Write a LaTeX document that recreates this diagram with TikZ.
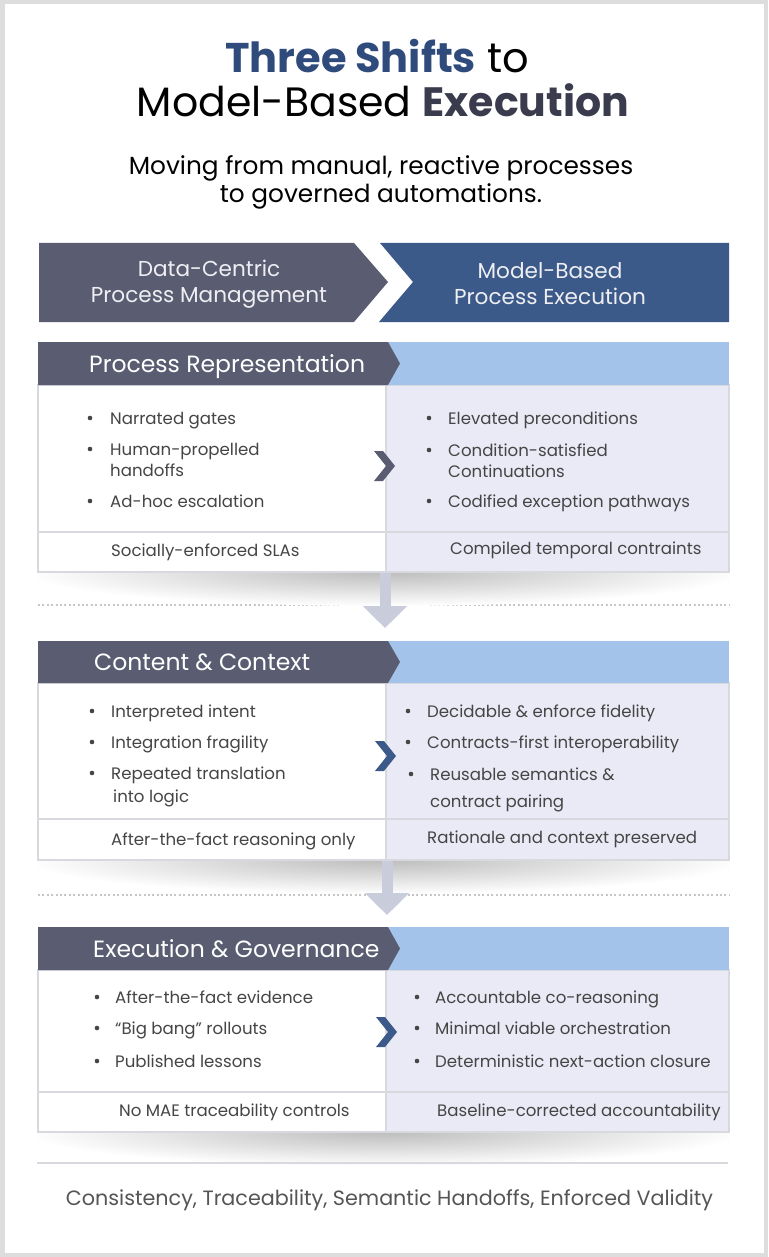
\documentclass[tikz,border=0pt]{standalone}
\usepackage{fontspec}
\setmainfont{Poppins}
\usetikzlibrary{arrows.meta}
\definecolor{framec}{HTML}{DDDDDD}
\definecolor{slate}{HTML}{5A5D71}
\definecolor{navy}{HTML}{3C5A89}
\definecolor{lblue}{HTML}{A4C3EA}
\definecolor{lav}{HTML}{E9EAF5}
\definecolor{bordc}{HTML}{D8D9DF}
\definecolor{txt}{HTML}{454545}
\definecolor{arrowc}{HTML}{C8CCDB}
\definecolor{titleblue}{HTML}{2F4B7C}
\definecolor{titledark}{HTML}{3A3B4D}
\definecolor{headtxt}{HTML}{EEEEF3}
\definecolor{dotc}{HTML}{C6C6C6}
\definecolor{foottxt}{HTML}{555555}
\newcommand{\secframe}[4]{%
  \begin{scope}
    \clip (38,#4) rectangle (729,{#4+40});
    \shade[inner color=black!26,outer color=white] (384,#4) ellipse [x radius=360, y radius=34];
  \end{scope}
  \fill[lav] (386,#2) rectangle (729,#4);
  \fill[white] (38,#2) rectangle (386,#4);
  \draw[bordc,line width=1.2pt] (38,#2) rectangle (729,#4);
  \draw[bordc,line width=1.2pt] (386,#2) -- (386,#4);
  \draw[bordc,line width=1.2pt] (38,#3) -- (729,#3);
  \fill[lblue] (386,#1) rectangle (729,#2);
  \fill[slate] (38,#1) -- (388,#1) -- (400,{(#1+#2)/2}) -- (388,#2) -- (38,#2) -- cycle;
}
\newcommand{\chev}[3]{%
  \fill[#3] (#1,{#2-15}) -- ({#1+9},{#2-15}) -- ({#1+21},#2) -- ({#1+9},{#2+15}) -- (#1,{#2+15}) -- ({#1+12},#2) -- cycle;
}
\begin{document}
\begin{tikzpicture}[x=1pt,y=-1pt,
  bodytxt/.style={anchor=base west,inner sep=0pt,text=txt,font=\fontsize{16.6}{19}\selectfont},
  bul/.style={circle,fill=txt,inner sep=0pt,minimum size=4.6pt},
  sectitle/.style={anchor=base west,inner sep=0pt,text=white,font=\fontsize{23.5}{28}\selectfont},
  headtext/.style={align=center,inner sep=0pt,text=headtxt,font=\fontsize{21.6}{25.5}\selectfont,anchor=base},
  darrow/.style={draw=arrowc,line width=11pt,-{Triangle[width=43pt,length=22pt]}},
  dotline/.style={draw=dotc,line width=2pt,dash pattern=on 2pt off 2.4pt}
]
\useasboundingbox (0,0) rectangle (768,1257);
\fill[framec] (0,0) rectangle (768,1257);
\fill[white] (5,4) rectangle (764,1253);

% title
\node[anchor=base,inner sep=0pt,font=\fontsize{41.5}{44}\selectfont] (t1) at (377,73) {\textcolor{titleblue}{\bfseries Three Shifts} to};
\node[anchor=base,inner sep=0pt,font=\fontsize{41}{44}\selectfont] (t2) at (383,117) {Model-Based \textcolor{titledark}{\bfseries Execution}};
\node[anchor=base,inner sep=0pt,font=\fontsize{24.8}{28}\selectfont] (s1) at (381,175) {Moving from manual, reactive processes};
\node[anchor=base,inner sep=0pt,font=\fontsize{24.8}{28}\selectfont] (s2) at (381,203) {to governed automations.};

% top header arrows
\fill[slate] (39,243) -- (354,243) -- (388,282) -- (354,322) -- (39,322) -- cycle;
\fill[navy] (380,243) -- (729,243) -- (729,322) -- (379,322) -- (413,282) -- cycle;
\node[headtext] (h1) at (209,302) {Data-Centric\\Process Management};
\node[headtext] (h2) at (550,304) {Model-Based\\Process Execution};

% dotted separators
\coordinate (d1a) at (38,605); \coordinate (d1b) at (729,605);
\coordinate (d2a) at (38,895); \coordinate (d2b) at (729,895);
\draw[dotline] (d1a) -- (d1b);
\draw[dotline] (d2a) -- (d2b);

% section 1
\secframe{342}{385}{532}{572}
\node[sectitle] (p1) at (89,372) {Process Representation};
\chev{374}{466}{slate}
\node[bul] (l1a) at (90,418) {}; \node[bodytxt] (l1at) at (110,424) {Narrated gates};
\node[bul] (l1b) at (90,449) {}; \node[bodytxt] (l1bt) at (110,455) {Human-propelled};
\node[bodytxt] (l1bt2) at (110,476) {handoffs};
\node[bul] (l1c) at (90,501) {}; \node[bodytxt] (l1ct) at (110,507) {Ad-hoc escalation};
\node[bul] (r1a) at (429,418) {}; \node[bodytxt] (r1at) at (448,424) {Elevated preconditions};
\node[bul] (r1b) at (429,450) {}; \node[bodytxt] (r1bt) at (448,456) {Condition-satisfied};
\node[bodytxt] (r1bt2) at (448,477) {Continuations};
\node[bul] (r1c) at (429,501) {}; \node[bodytxt] (r1ct) at (448,507) {Codified exception pathways};
\node[bodytxt] (f1l) at (111,556) {Socially-enforced SLAs};
\node[bodytxt] (f1r) at (450,554) {Compiled temporal contraints};

% section 2
\secframe{641}{683}{819}{860}
\node[sectitle] (p2) at (94,670) {Content \& Context};
\chev{375}{756}{navy}
\node[bul] (l2a) at (92,711) {}; \node[bodytxt] (l2at) at (111,717) {Interpreted intent};
\node[bul] (l2b) at (92,742) {}; \node[bodytxt] (l2bt) at (111,748) {Integration fragility};
\node[bul] (l2c) at (92,773) {}; \node[bodytxt] (l2ct) at (111,779) {Repeated translation};
\node[bodytxt] (l2ct2) at (113,802) {into logic};
\node[bul] (r2a) at (408,711) {}; \node[bodytxt] (r2at) at (427,717) {Decidable \& enforce fidelity};
\node[bul] (r2b) at (408,742) {}; \node[bodytxt] (r2bt) at (427,748) {Contracts-first interoperability};
\node[bul] (r2c) at (411,774) {}; \node[bodytxt] (r2ct) at (430,780) {Reusable semantics \&};
\node[bodytxt] (r2ct2) at (430,807) {contract pairing};
\node[bodytxt] (f2l) at (111,845) {After-the-fact reasoning only};
\node[bodytxt] (f2r) at (427,843) {Rationale and context preserved};

% section 3
\secframe{927}{970}{1092}{1132}
\node[sectitle] (p3) at (93,957) {Execution \& Governance};
\chev{376}{1032}{navy}
\node[bul] (l3a) at (97,997) {}; \node[bodytxt] (l3at) at (115,1003) {After-the-fact evidence};
\node[bul] (l3b) at (97,1028) {}; \node[bodytxt] (l3bt) at (115,1034) {“Big bang” rollouts};
\node[bul] (l3c) at (97,1061) {}; \node[bodytxt] (l3ct) at (115,1067) {Published lessons};
\node[bul] (r3a) at (417,997) {}; \node[bodytxt] (r3at) at (435,1003) {Accountable co-reasoning};
\node[bul] (r3b) at (417,1028) {}; \node[bodytxt] (r3bt) at (435,1034) {Minimal viable orchestration};
\node[bul] (r3c) at (417,1061) {}; \node[bodytxt] (r3ct) at (435,1067) {Deterministic next-action closure};
\node[bodytxt] (f3l) at (119,1116) {No MAE traceability controls};
\node[bodytxt] (f3r) at (437,1116) {Baseline-corrected accountability};

% down arrows
\coordinate (a1s) at (385,572.6); \coordinate (a1e) at (385,628);
\coordinate (a2s) at (387,860.6); \coordinate (a2e) at (387,915);
\draw[darrow] (a1s) -- (a1e);
\draw[darrow] (a2s) -- (a2e);

% footer
\coordinate (fl1) at (37,1163); \coordinate (fl2) at (728,1163);
\draw[bordc,line width=1.4pt] (fl1) -- (fl2);
\node[anchor=base,inner sep=0pt,text=foottxt,font=\fontsize{20.7}{23}\selectfont] (foot) at (389.5,1205) {Consistency, Traceability, Semantic Handoffs, Enforced Validity};
\end{tikzpicture}
\end{document}
